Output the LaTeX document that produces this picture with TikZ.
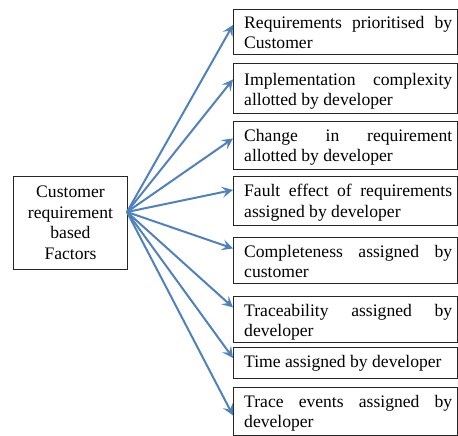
\documentclass[tikz,border=0pt]{standalone}
\usepackage{fontspec}
\setmainfont{Liberation Serif}
\usetikzlibrary{arrows.meta}
\newcommand\nohy{\hyphenpenalty=10000\relax\exhyphenpenalty=10000\relax\tolerance=9999\relax}
\begin{document}
\begin{tikzpicture}[x=1pt,y=-1pt,
  fbox/.style={draw=black!85,line width=0.9pt,inner sep=0pt},
  rbox/.style={fbox,anchor=north west,minimum width=224pt},
  tx/.style={anchor=north west,inner sep=0pt,text width=208pt,align=justify,font=\fontsize{17.6}{20.5}\selectfont\nohy},
  arr/.style={draw={rgb,255:red,79;green,129;blue,189},line width=2pt,-{Stealth[length=11pt,width=11pt,inset=4.5pt]}}]
\useasboundingbox (0,0) rectangle (458,436);
\node[fbox,anchor=north west,minimum width=114pt,minimum height=93pt,align=center,font=\fontsize{17.6}{20.5}\selectfont] (c) at (13,176) {Customer\\requirement\\based\\Factors};
\coordinate (o) at (127,212);
\node[rbox,minimum height=45pt] (b1) at (233,9) {};
\node[rbox,minimum height=50pt] (b2) at (233,63) {};
\node[rbox,minimum height=48pt] (b3) at (233,121) {};
\node[rbox,minimum height=49pt] (b4) at (233,176) {};
\node[rbox,minimum height=46pt] (b5) at (233,237) {};
\node[rbox,minimum height=46pt] (b6) at (233,296) {};
\node[rbox,minimum height=31pt] (b7) at (233,347) {};
\node[rbox,minimum height=48pt] (b8) at (233,387) {};
\node[tx] (t1) at (244,16) {Requirements prioritised by Customer};
\node[tx] (t2) at (244,73) {Implementation complexity allotted by developer};
\node[tx] (t3) at (244,129) {Change in requirement allotted by developer};
\node[tx] (t4) at (244,184) {Fault effect of requirements assigned by developer};
\node[tx] (t5) at (244,245) {Completeness assigned by customer};
\node[tx] (t6) at (244,304) {Traceability assigned by developer};
\node[tx] (t7) at (244,355) {Time assigned by developer};
\node[tx] (t8) at (244,395) {Trace events assigned by developer};
\draw[arr] (o) -- ([yshift=7pt]b1.west);
\draw[arr] (o) -- ([yshift=9pt]b2.west);
\draw[arr] (o) -- ([yshift=7pt]b3.west);
\draw[arr] (o) -- ([yshift=11pt]b4.west);
\draw[arr] (o) -- ([yshift=12pt]b5.west);
\draw[arr] (o) -- ([yshift=12pt]b6.west);
\draw[arr] (o) -- ([yshift=5pt]b7.west);
\draw[arr] (o) -- ([yshift=-4pt]b8.west);
\end{tikzpicture}
\end{document}
